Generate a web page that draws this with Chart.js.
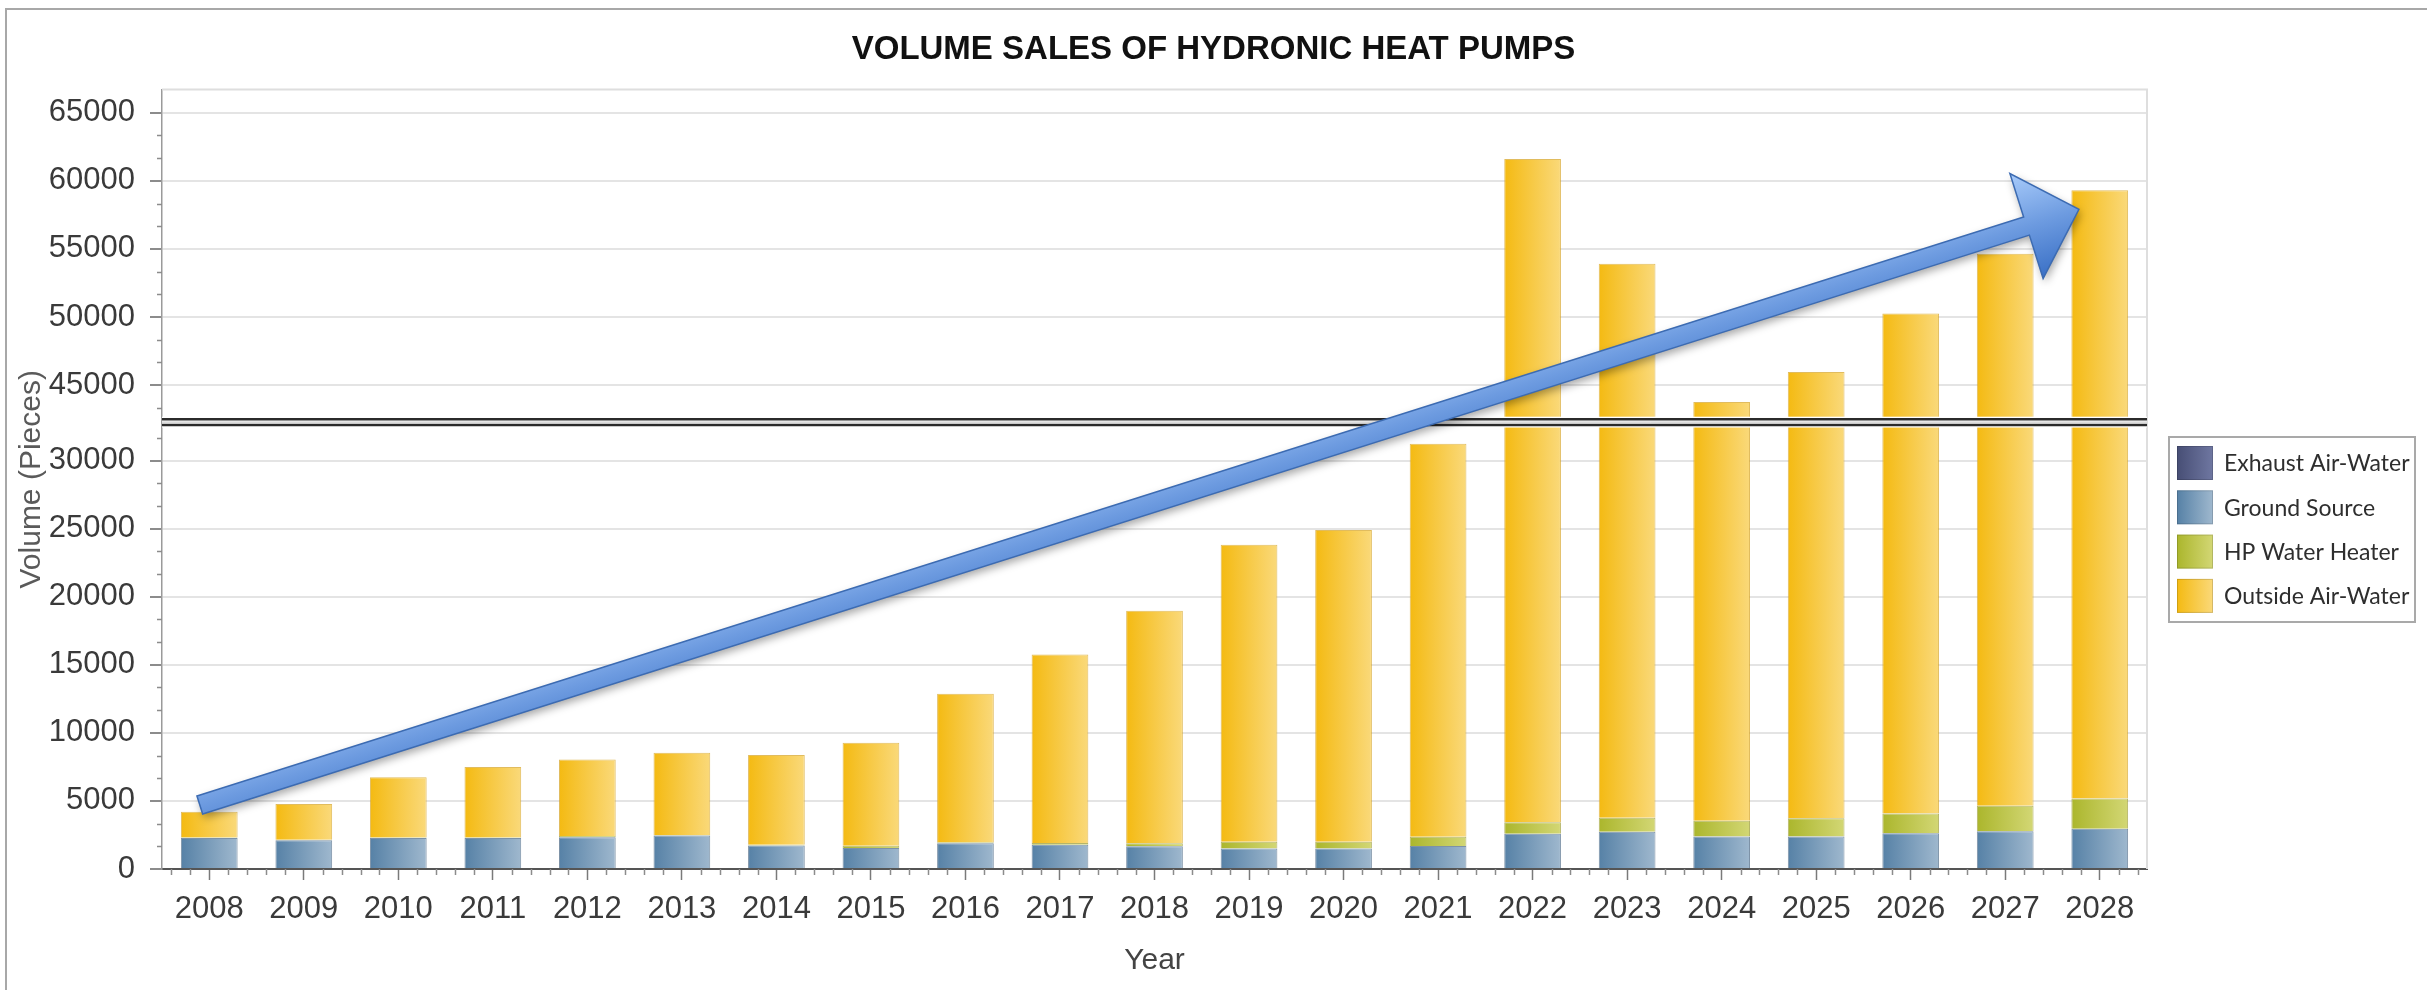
<!DOCTYPE html>
<html lang="en">
<head>
    <meta charset="UTF-8">
    <title>Volume Sales of Hydronic Heat Pumps</title>
    <script src="https://cdn.jsdelivr.net/npm/chart.js"></script>
    <style>
        body {
            margin: 0;
            background: #fff;
            overflow: hidden;
        }

        .wrap {
            position: relative;
            width: 2427px;
            height: 990px;
        }

        .frame {
            position: absolute;
            left: 5px;
            top: 8px;
            right: -10px;
            bottom: -10px;
            border: 2px solid #a8a8a8;
            pointer-events: none;
        }
    </style>
</head>
<body>
    <div class="wrap">
        <canvas id="salesChart" width="2427" height="990"></canvas>
        <div class="frame"></div>
    </div>

    <script>
        // Data
        const years = ['2008', '2009', '2010', '2011', '2012', '2013', '2014', '2015', '2016', '2017', '2018',
                       '2019', '2020', '2021', '2022', '2023', '2024', '2025', '2026', '2027', '2028'];
        const exhaustAirWater = [80, 80, 80, 80, 80, 80, 80, 80, 80, 80, 80,
                                 80, 80, 80, 80, 80, 80, 80, 80, 80, 80];
        const groundSource = [2200, 2030, 2200, 2200, 2250, 2380, 1650, 1470, 1820, 1700, 1600,
                              1430, 1430, 1610, 2510, 2660, 2310, 2310, 2550, 2700, 2870];
        const hpWaterHeater = [30, 30, 30, 30, 100, 40, 60, 150, 60, 130, 220,
                               490, 490, 680, 850, 1020, 1160, 1330, 1450, 1860, 2220];
        const outsideAirWater = [1890, 2640, 4430, 5190, 5610, 6040, 6580, 7570, 10920, 13850, 17070,
                                 21820, 22910, 28870, 58160, 50140, 40200, 42230, 46170, 50010, 54130];
        const yTickValues = [0, 5000, 10000, 15000, 20000, 25000, 30000,
                             45000, 50000, 55000, 60000, 65000];

        // broken value axis: the range between low and high is squeezed into "gap"
        const axisBreak = { low: 32500, high: 42600, gap: 650 };
        const yMax = 66700;

        // trend arrow, in category index / value units
        const trendArrow = { from: { x: -0.1, y: 4700 }, to: { x: 19.78, y: 57900 } };

        const narrow = "'Liberation Sans Narrow', 'Arial Narrow', 'Liberation Sans', Arial, sans-serif";
        const regular = "'Liberation Sans', Arial, sans-serif";

        const palette = [
            { label: 'Exhaust Air-Water', from: '#474e75', to: '#6f77a1', border: 'rgba(50,55,85,0.8)' },
            { label: 'Ground Source', from: '#5681a6', to: '#9fb8ce', border: 'rgba(70,100,130,0.7)' },
            { label: 'HP Water Heater', from: '#abb62c', to: '#d3d775', border: 'rgba(150,150,40,0.7)' },
            { label: 'Outside Air-Water', from: '#f4ba12', to: '#fad97a', border: 'rgba(215,165,40,0.75)' }
        ];

        class BrokenLinearScale extends Chart.LinearScale {
            toVirtual(v) {
                const b = axisBreak;
                if (v <= b.low) return v;
                if (v >= b.high) return v - (b.high - b.low) + b.gap;
                return b.low + (v - b.low) / (b.high - b.low) * b.gap;
            }

            fromVirtual(v) {
                const b = axisBreak;
                if (v <= b.low) return v;
                if (v >= b.low + b.gap) return v + (b.high - b.low) - b.gap;
                return b.low + (v - b.low) / b.gap * (b.high - b.low);
            }

            getPixelForValue(value) {
                const lo = this.toVirtual(this.min);
                const hi = this.toVirtual(this.max);
                return this.getPixelForDecimal((this.toVirtual(value) - lo) / (hi - lo));
            }

            getValueForPixel(pixel) {
                const lo = this.toVirtual(this.min);
                const hi = this.toVirtual(this.max);
                return this.fromVirtual(lo + this.getDecimalForPixel(pixel) * (hi - lo));
            }
        }
        BrokenLinearScale.id = 'brokenLinear';
        BrokenLinearScale.defaults = Chart.LinearScale.defaults;
        Chart.register(BrokenLinearScale);

        // horizontal gradient across each bar
        function barFill(p) {
            return (c) => {
                const chart = c.chart;
                const xs = chart.scales.x;
                if (!chart.chartArea || !xs || c.dataIndex === undefined) return p.from;
                const cx = xs.getPixelForValue(c.dataIndex);
                const half = xs.width / years.length * 0.6 / 2;
                const g = chart.ctx.createLinearGradient(cx - half, 0, cx + half, 0);
                g.addColorStop(0, p.from);
                g.addColorStop(1, p.to);
                return g;
            };
        }

        const series = [exhaustAirWater, groundSource, hpWaterHeater, outsideAirWater];

        const plotFrame = {
            id: 'plotFrame',
            beforeDatasetsDraw(chart) {
                const { ctx, chartArea: a } = chart;
                ctx.save();
                ctx.strokeStyle = '#dedede';
                ctx.lineWidth = 2;
                ctx.beginPath();
                ctx.moveTo(a.left, a.top);
                ctx.lineTo(a.right, a.top);
                ctx.lineTo(a.right, a.bottom);
                ctx.stroke();
                ctx.restore();
            },
            afterDraw(chart) {
                // minor tick marks on both axes
                const { ctx, chartArea: a, scales: { x, y } } = chart;
                ctx.save();
                ctx.strokeStyle = '#8c8c8c';
                ctx.lineWidth = 1.5;
                ctx.beginPath();
                for (let v = 0; v < 65000; v += 5000) {
                    for (let k = 1; k <= 2; k++) {
                        const mv = v + k * 5000 / 3;
                        if (mv > axisBreak.low && mv < axisBreak.high) continue;
                        const py = Math.round(y.getPixelForValue(mv)) + 0.5;
                        ctx.moveTo(a.left - 5, py);
                        ctx.lineTo(a.left, py);
                    }
                }
                for (let i = -1; i < years.length; i++) {
                    for (let k = 1; k <= 4; k++) {
                        const mv = i + k / 5;
                        if (mv < -0.5 || mv > years.length - 0.5) continue;
                        const px = Math.round(x.getPixelForValue(mv)) + 0.5;
                        ctx.moveTo(px, a.bottom);
                        ctx.lineTo(px, a.bottom + 6);
                    }
                }
                ctx.stroke();
                ctx.restore();
            }
        };

        const breakAndArrow = {
            id: 'breakAndArrow',
            afterDatasetsDraw(chart) {
                const { ctx, chartArea: a, scales: { x, y } } = chart;
                // axis break marks
                const yLo = y.getPixelForValue(axisBreak.low);
                const yHi = y.getPixelForValue(axisBreak.high);
                ctx.save();
                ctx.fillStyle = '#ffffff';
                ctx.fillRect(a.left, yHi - 1, a.right - a.left, yLo - yHi + 2);
                ctx.lineWidth = 2.5;
                ctx.strokeStyle = '#2b2b2b';
                ctx.beginPath();
                ctx.moveTo(a.left, yHi + 1.5);
                ctx.lineTo(a.right, yHi + 1.5);
                ctx.moveTo(a.left, yLo - 1.5);
                ctx.lineTo(a.right, yLo - 1.5);
                ctx.stroke();
                ctx.lineWidth = 1;
                ctx.strokeStyle = '#c4c4c4';
                ctx.beginPath();
                ctx.moveTo(a.left, (yLo + yHi) / 2);
                ctx.lineTo(a.right, (yLo + yHi) / 2);
                ctx.stroke();
                ctx.restore();

                // trend arrow
                const x0 = x.getPixelForValue(trendArrow.from.x);
                const y0 = y.getPixelForValue(trendArrow.from.y);
                const x1 = x.getPixelForValue(trendArrow.to.x);
                const y1 = y.getPixelForValue(trendArrow.to.y);
                const len = Math.hypot(x1 - x0, y1 - y0);
                const ux = (x1 - x0) / len, uy = (y1 - y0) / len;
                const nx = -uy, ny = ux;
                const shaft = 9.5, headHalf = 55, headLen = 55;
                const bx = x1 - ux * headLen, by = y1 - uy * headLen;
                const pt = (px, py, s) => [px + nx * s, py + ny * s];
                const pts = [
                    pt(x0, y0, -shaft), pt(bx, by, -shaft), pt(bx, by, -headHalf), [x1, y1],
                    pt(bx, by, headHalf), pt(bx, by, shaft), pt(x0, y0, shaft)
                ];
                ctx.save();
                const g = ctx.createLinearGradient(bx - nx * headHalf, by - ny * headHalf, bx + nx * headHalf, by + ny * headHalf);
                g.addColorStop(0, '#a8cbfa');
                g.addColorStop(0.5, '#6d9be0');
                g.addColorStop(1, '#3a70c6');
                ctx.beginPath();
                pts.forEach((p, i) => (i ? ctx.lineTo(p[0], p[1]) : ctx.moveTo(p[0], p[1])));
                ctx.closePath();
                ctx.shadowColor = 'rgba(0, 0, 0, 0.35)';
                ctx.shadowBlur = 8;
                ctx.shadowOffsetX = 2;
                ctx.shadowOffsetY = 4;
                ctx.fillStyle = g;
                ctx.fill();
                ctx.shadowColor = 'transparent';
                ctx.strokeStyle = '#3c6bb2';
                ctx.lineWidth = 1.5;
                ctx.lineJoin = 'miter';
                ctx.stroke();
                ctx.restore();
            }
        };

        const legendBox = {
            id: 'legendBox',
            afterDraw(chart) {
                const { ctx, chartArea: a } = chart;
                const left = a.right + 22, top = 437, w = 246, h = 185;
                ctx.save();
                ctx.fillStyle = '#fff';
                ctx.fillRect(left, top, w, h);
                ctx.strokeStyle = '#a9a9a9';
                ctx.lineWidth = 2;
                ctx.strokeRect(left, top, w, h);
                chart.data.datasets.forEach((ds, i) => {
                    const p = palette[i];
                    const sy = top + 9 + i * 44.3;
                    const sx = left + 8;
                    const g = ctx.createLinearGradient(sx, 0, sx + 36, 0);
                    g.addColorStop(0, p.from);
                    g.addColorStop(1, p.to);
                    ctx.fillStyle = g;
                    ctx.fillRect(sx, sy, 36, 34);
                    ctx.strokeStyle = 'rgba(0,0,0,0.15)';
                    ctx.lineWidth = 1;
                    ctx.strokeRect(sx + 0.5, sy + 0.5, 35, 33);
                    ctx.fillStyle = '#2e2e2e';
                    ctx.font = "23px Lato, 'Open Sans', sans-serif";
                    ctx.textBaseline = 'middle';
                    ctx.fillText(ds.label, left + 55, sy + 18);
                });
                ctx.restore();
            }
        };

        new Chart(document.getElementById('salesChart'), {
            type: 'bar',
            data: {
                labels: years,
                datasets: series.map((data, i) => ({
                    label: palette[i].label,
                    data: data,
                    backgroundColor: barFill(palette[i]),
                    borderColor: palette[i].border,
                    borderWidth: 1,
                    barPercentage: 0.6,
                    categoryPercentage: 1
                }))
            },
            options: {
                responsive: false,
                animation: false,
                layout: { padding: 0 },
                plugins: {
                    legend: { display: false },
                    tooltip: { enabled: false },
                    title: {
                        display: true,
                        text: 'VOLUME SALES OF HYDRONIC HEAT PUMPS',
                        color: '#111',
                        font: { family: regular, size: 33, weight: 'bold', lineHeight: 1.2 },
                        padding: { top: 30, bottom: 20 }
                    }
                },
                scales: {
                    x: {
                        stacked: true,
                        grid: { offset: false, drawOnChartArea: false, tickLength: 11, tickColor: '#7a7a7a', tickWidth: 1.5 },
                        border: { color: '#555', width: 2 },
                        ticks: { padding: 11, color: '#3a3a3a', font: { family: narrow, size: 31 }, maxRotation: 0 },
                        title: {
                            display: true,
                            text: 'Year',
                            color: '#444',
                            font: { family: narrow, size: 30 },
                            padding: { bottom: 11 }
                        },
                        afterFit: (s) => { s.height = 121; }
                    },
                    y: {
                        type: 'brokenLinear',
                        stacked: true,
                        min: 0,
                        max: yMax,
                        afterBuildTicks: (s) => { s.ticks = yTickValues.map(v => ({ value: v })); },
                        afterFit: (s) => { s.width = 162; },
                        grid: { color: '#e4e4e4', lineWidth: 2, tickColor: '#8c8c8c', tickLength: 12 },
                        border: { color: '#9a9a9a', width: 1.5 },
                        ticks: { padding: 15, color: '#3a3a3a', font: { family: narrow, size: 31 }, callback: (v) => String(v) },
                        title: {
                            display: true,
                            text: 'Volume (Pieces)',
                            color: '#5a5a5a',
                            font: { family: regular, size: 30 },
                            padding: { top: 14 }
                        }
                    },
                    // empty right-hand column that holds the legend
                    legendSpace: {
                        type: 'linear',
                        position: 'right',
                        grid: { display: false },
                        border: { display: false },
                        ticks: { display: false },
                        afterFit: (s) => { s.width = 280; }
                    }
                }
            },
            plugins: [plotFrame, breakAndArrow, legendBox]
        });
    </script>
</body>
</html>
